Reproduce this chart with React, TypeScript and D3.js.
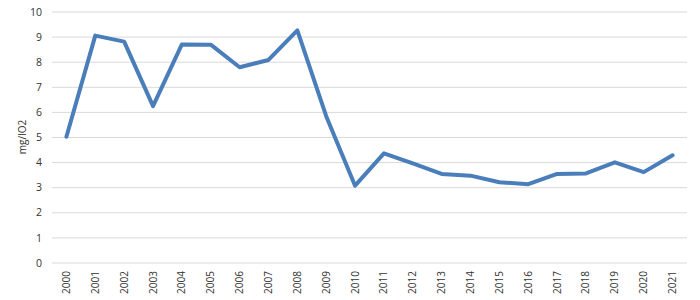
import React from "react";
import * as d3 from "d3";

const years = ["2000","2001","2002","2003","2004","2005","2006","2007","2008","2009","2010","2011","2012","2013","2014","2015","2016","2017","2018","2019","2020","2021"];
const values = [5.03, 9.06, 8.82, 6.25, 8.71, 8.7, 7.8, 8.09, 9.27, 5.85, 3.08, 4.37, 3.97, 3.55, 3.48, 3.22, 3.14, 3.55, 3.57, 4.01, 3.62, 4.29];
const yTicks = [0,1,2,3,4,5,6,7,8,9,10];
const yLabel = "mg/lO2";

export default function App() {
  const W = 700, H = 300;
  const left = 52, right = 687, top = 12, bottom = 263;
  const x = d3.scaleBand<string>().domain(years).range([left, right]);
  const y = d3.scaleLinear().domain([0, 10]).range([bottom, top]);
  const line = d3.line<number>()
    .x((_, i) => (x(years[i]) as number) + x.bandwidth() / 2)
    .y((d) => y(d));
  const font = "Open Sans, DejaVu Sans, sans-serif";
  const txt = "#333333";
  return (
    <svg width={W} height={H} style={{ position: "absolute", left: 0, top: 0, background: "#fff" }}>
      {yTicks.map((t) => (
        <g key={t}>
          <line x1={left} x2={right} y1={y(t)} y2={y(t)} stroke="#d9d9d9" strokeWidth={1} />
          <text x={42} y={y(t)} dy="0.35em" textAnchor="end" fontSize={10.5} fontFamily={font} fill={txt}>{t}</text>
        </g>
      ))}
      {years.map((yr) => {
        const cx = (x(yr) as number) + x.bandwidth() / 2;
        return (
          <text key={yr} transform={`translate(${cx + 3.5},${271}) rotate(-90)`} textAnchor="end" fontSize={10} fontFamily={font} fill={txt}>{yr}</text>
        );
      })}
      <text transform={`translate(${26},${137}) rotate(-90)`} textAnchor="middle" fontSize={10} fontFamily={font} fill={txt}>{yLabel}</text>
      <path d={line(values) || ""} fill="none" stroke="#4a7ebb" strokeWidth={4} strokeLinejoin="round" strokeLinecap="round" />
    </svg>
  );
}
